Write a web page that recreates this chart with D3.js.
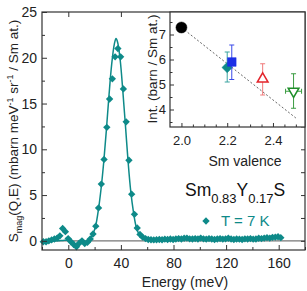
<!DOCTYPE html>
<html>
<head>
<meta charset="utf-8">
<script src="https://cdn.jsdelivr.net/npm/d3@7/dist/d3.min.js"></script>
<style>
body { margin: 0; background: #fff; }
svg { display: block; font-family: "Liberation Sans", Arial, sans-serif; }
</style>
</head>
<body>
<script>
// main panel: S_mag(Q,E) at T = 7 K
const energy = [
    -19.0, -16.9, -14.8, -12.7, -10.6, -8.5, -6.4, -4.3, -2.2, -0.1,
    2.0, 4.1, 6.2, 8.3, 10.4, 12.5, 14.6, 16.7, 18.8, 20.9,
    23.0, 25.1, 27.2, 29.3, 31.4, 33.5, 35.6, 37.7, 39.8, 41.9,
    44.0, 46.1, 48.2, 50.3, 52.4, 54.5, 56.6, 58.7, 60.8, 62.9,
    65.0, 67.1, 69.2, 71.3, 73.4, 75.5, 77.6, 79.7, 81.8, 83.9,
    86.0, 88.1, 90.2, 92.3, 94.4, 96.5, 98.6, 100.7, 102.8, 104.9,
    107.0, 109.1, 111.2, 113.3, 115.4, 117.5, 119.6, 121.7, 123.8, 125.9,
    128.0, 130.1, 132.2, 134.3, 136.4, 138.5, 140.6, 142.7, 144.8, 146.9,
    149.0, 151.1, 153.2, 155.3, 157.4, 159.5, 161.6
];
const intensity = [
    -0.1, -0.1, 0.0, 0.1, 0.2, 0.3, 0.55, 1.35, 1.0, 0.25,
    -0.1, -0.4, -0.65, -0.25, 0.0, -0.3, -0.15, 0.2, 0.75, 1.6,
    3.6, 6.2, 8.9, 12.4, 15.5, 17.7, 20.1, 21.0, 20.1, 16.6,
    13.0, 8.8, 5.1, 2.9, 1.4, 0.7, 0.4, 0.25, 0.15, 0.12,
    0.1, 0.12, 0.15, 0.12, 0.18, 0.15, 0.2, 0.15, 0.2, 0.25,
    0.2, 0.28, 0.3, 0.22, 0.2, 0.25, 0.2, 0.3, 0.22, 0.18,
    0.25, 0.2, 0.15, 0.2, 0.25, 0.18, 0.22, 0.28, 0.2, 0.15,
    0.2, 0.18, 0.15, 0.22, 0.2, 0.25, 0.18, 0.2, 0.28, 0.25,
    0.3, 0.35, 0.3, 0.38, 0.4, 0.45, 0.35
];

// fitted curve
const fitEnergy = [
    -20, -8, -4, -1, 1, 4, 6, 8, 10, 12.5,
    14.6, 16.7, 18.8, 20.9, 23, 25, 27, 29, 31, 33,
    35, 36.3, 37.5, 39.5, 41.5, 43.5, 45.5, 47.5, 49.5, 51.5,
    53.5, 56, 60, 80, 100, 120, 140, 163
];
const fitIntensity = [
    0.0, 0.0, 0.05, 0.05, -0.1, -0.45, -0.6, -0.3, 0.0, -0.3,
    -0.15, 0.2, 0.75, 1.7, 3.5, 5.8, 8.7, 12.2, 16.0, 19.3,
    21.5, 22.1, 21.7, 19.7, 16.3, 12.5, 8.6, 5.4, 3.2, 1.6,
    0.8, 0.35, 0.15, 0.15, 0.2, 0.2, 0.2, 0.35
];

const xTickLabels = [0, 40, 80, 120, 160];
const xMinorTicks = [-20, 20, 60, 100, 140, 180];
const yTickLabels = [0, 5, 10, 15, 20, 25];
const yMinorTicks = [2.5, 7.5, 12.5, 17.5, 22.5];

// inset: integrated intensity vs Sm valence
const valence = [2.0, 2.2, 2.22, 2.355, 2.49];
const intValue = [7.28, 5.68, 5.9, 5.22, 4.73];
const intLow = [7.28, 5.1, 5.2, 4.58, 4.05];
const intHigh = [7.28, 6.3, 6.58, 5.83, 5.43];
const valenceErr = [0, 0, 0, 0, 0.035];
const trendValence = [2.0, 2.5];
const trendInt = [7.28, 3.66];

const insetXTicks = [2.0, 2.2, 2.4];
const insetXMinor = [2.05, 2.1, 2.15, 2.25, 2.3, 2.35, 2.45, 2.5];
const insetYTicks = [4, 5, 6, 7];
const insetYMinor = [3.5, 4.5, 5.5, 6.5, 7.5];

const width = 307;
const height = 291;
const teal = '#0e8a89';
const axisColor = '#333';

const svg = d3.select('body').append('svg').
    attr('width', width).
    attr('height', height);

const x = d3.scaleLinear().domain([-20, 180]).range([42, 305]);
const y = d3.scaleLinear().domain([-1, 25]).range([250, 12]);

// zero line
svg.append('line').
    attr('x1', x.range()[0]).attr('x2', x.range()[1]).
    attr('y1', y(0)).attr('y2', y(0)).
    attr('stroke', '#777').attr('stroke-width', 1.3);

// fit line
const fitPts = fitEnergy.map((e, i) => [e, fitIntensity[i]]);
svg.append('path').
    datum(fitPts).
    attr('fill', 'none').
    attr('stroke', teal).
    attr('stroke-width', 1.5).
    attr('d', d3.line().x(d => x(d[0])).y(d => y(d[1])).curve(d3.curveCatmullRom.alpha(0.5)));

// data points
const diamond = d3.symbol(d3.symbolSquare, 27);
svg.append('g').
    selectAll('path').
    data(energy.map((e, i) => [e, intensity[i]])).
    join('path').
    attr('d', diamond).
    attr('fill', teal).
    attr('transform', d => `translate(${x(d[0])},${y(d[1])}) rotate(45)`);

// axes
const styleAxis = (g) => {
    g.select('.domain').remove();
    g.selectAll('line').attr('stroke', axisColor);
    g.selectAll('text').attr('fill', '#222').attr('font-size', 14);
};

svg.append('g').
    attr('transform', `translate(0,${y.range()[0]})`).
    call(d3.axisBottom(x).tickValues(xTickLabels).tickFormat(d3.format('d')).tickSizeInner(-5).tickSizeOuter(0).tickPadding(8)).
    call(styleAxis);
svg.append('g').
    attr('transform', `translate(0,${y.range()[0]})`).
    call(d3.axisBottom(x).tickValues(xMinorTicks).tickSizeInner(-3).tickSizeOuter(0).tickFormat('')).
    call(styleAxis);
svg.append('g').
    attr('transform', `translate(0,${y.range()[1]})`).
    call(d3.axisTop(x).tickValues(xTickLabels).tickSizeInner(-5).tickSizeOuter(0).tickFormat('')).
    call(styleAxis);
svg.append('g').
    attr('transform', `translate(${x.range()[0]},0)`).
    call(d3.axisLeft(y).tickValues(yTickLabels).tickFormat(d3.format('d')).tickSizeInner(-5).tickSizeOuter(0).tickPadding(5)).
    call(styleAxis);
svg.append('g').
    attr('transform', `translate(${x.range()[0]},0)`).
    call(d3.axisLeft(y).tickValues(yMinorTicks).tickSizeInner(-3).tickSizeOuter(0).tickFormat('')).
    call(styleAxis);
svg.append('g').
    attr('transform', `translate(${x.range()[1]},0)`).
    call(d3.axisRight(y).tickValues(yTickLabels.concat(yMinorTicks)).tickSizeInner(-4).tickSizeOuter(0).tickFormat('')).
    call(styleAxis);

svg.append('rect').
    attr('x', x.range()[0]).attr('y', y.range()[1]).
    attr('width', x.range()[1] - x.range()[0]).
    attr('height', y.range()[0] - y.range()[1]).
    attr('fill', 'none').attr('stroke', axisColor).attr('stroke-width', 1.2);

// axis titles
svg.append('text').
    attr('x', 185).attr('y', 287).
    attr('text-anchor', 'middle').
    attr('font-size', 14).attr('fill', '#222').
    text('Energy (meV)');

const yTitle = svg.append('text').
    attr('transform', 'translate(18,131) rotate(-90)').
    attr('text-anchor', 'middle').
    attr('font-size', 13.5).attr('fill', '#222');
yTitle.append('tspan').text('S');
yTitle.append('tspan').attr('font-size', 9).attr('dy', 4).text('mag');
yTitle.append('tspan').attr('dy', -4).text('(Q,E) (mbarn meV');
yTitle.append('tspan').attr('font-size', 9).attr('dy', -5).text('-1');
yTitle.append('tspan').attr('dy', 5).text(' sr');
yTitle.append('tspan').attr('font-size', 9).attr('dy', -5).text('-1');
yTitle.append('tspan').attr('dy', 5).text(' / Sm at.)');

// compound label and legend
const formula = svg.append('text').
    attr('x', 185).attr('y', 196).
    attr('font-size', 17.5).attr('fill', '#111');
formula.append('tspan').text('Sm');
formula.append('tspan').attr('font-size', 13).attr('dy', 7).text('0.83');
formula.append('tspan').attr('dy', -7).text('Y');
formula.append('tspan').attr('font-size', 13).attr('dy', 7).text('0.17');
formula.append('tspan').attr('dy', -7).text('S');

svg.append('path').
    attr('d', diamond).
    attr('fill', teal).
    attr('transform', 'translate(206,221) rotate(45)');
svg.append('text').
    attr('x', 221).attr('y', 225.5).
    attr('font-size', 15).attr('fill', teal).
    text('T = 7 K');

// inset
const ix = d3.scaleLinear().domain([1.95, 2.54]).range([170, 305]);
const iy = d3.scaleLinear().domain([3.3, 7.9]).range([127, 12]);

const inset = svg.append('g');

inset.append('rect').
    attr('x', ix.range()[0]).attr('y', iy.range()[1]).
    attr('width', ix.range()[1] - ix.range()[0]).
    attr('height', iy.range()[0] - iy.range()[1]).
    attr('fill', '#fff');

inset.append('line').
    attr('x1', ix(trendValence[0])).attr('y1', iy(trendInt[0])).
    attr('x2', ix(trendValence[1])).attr('y2', iy(trendInt[1])).
    attr('stroke', '#555').attr('stroke-width', 0.9).attr('stroke-dasharray', '2,2');

const pointStyle = [
    { shape: 'circle', fill: '#000', stroke: '#000', bar: '#000' },
    { shape: 'diamond', fill: teal, stroke: teal, bar: '#3aa3a0' },
    { shape: 'square', fill: '#1c2fe6', stroke: '#1c2fe6', bar: '#3a4ae8' },
    { shape: 'up', fill: '#fff', stroke: '#e3242b', bar: '#f07a7a' },
    { shape: 'down', fill: '#fff', stroke: '#1f8f2a', bar: '#3b9c42' }
];

valence.forEach((v, i) => {
    const s = pointStyle[i];
    const cx = ix(v);
    const cy = iy(intValue[i]);
    if (intHigh[i] !== intLow[i]) {
        inset.append('line').
            attr('x1', cx).attr('x2', cx).
            attr('y1', iy(intLow[i])).attr('y2', iy(intHigh[i])).
            attr('stroke', s.bar).attr('stroke-width', 1);
        [intLow[i], intHigh[i]].forEach(b => {
            inset.append('line').
                attr('x1', cx - 2.5).attr('x2', cx + 2.5).
                attr('y1', iy(b)).attr('y2', iy(b)).
                attr('stroke', s.bar).attr('stroke-width', 1);
        });
    }
    if (valenceErr[i] > 0) {
        inset.append('line').
            attr('x1', ix(v - valenceErr[i])).attr('x2', ix(v + valenceErr[i])).
            attr('y1', cy).attr('y2', cy).
            attr('stroke', s.bar).attr('stroke-width', 1);
        [v - valenceErr[i], v + valenceErr[i]].forEach(b => {
            inset.append('line').
                attr('x1', ix(b)).attr('x2', ix(b)).
                attr('y1', cy - 2.5).attr('y2', cy + 2.5).
                attr('stroke', s.bar).attr('stroke-width', 1);
        });
    }
    let sym;
    let rot = 0;
    if (s.shape === 'circle') sym = d3.symbol(d3.symbolCircle, 95);
    if (s.shape === 'diamond') { sym = d3.symbol(d3.symbolSquare, 55); rot = 45; }
    if (s.shape === 'square') sym = d3.symbol(d3.symbolSquare, 75);
    if (s.shape === 'up') sym = d3.symbol(d3.symbolTriangle, 50);
    if (s.shape === 'down') { sym = d3.symbol(d3.symbolTriangle, 50); rot = 180; }
    inset.append('path').
        attr('d', sym).
        attr('fill', s.fill).
        attr('stroke', s.stroke).
        attr('stroke-width', s.fill === '#fff' ? 1.5 : 0.5).
        attr('transform', `translate(${cx},${cy}) rotate(${rot})`);
});

const styleInsetAxis = (g) => {
    g.select('.domain').remove();
    g.selectAll('line').attr('stroke', axisColor);
    g.selectAll('text').attr('fill', '#222').attr('font-size', 13);
};

inset.append('g').
    attr('transform', `translate(0,${iy.range()[0]})`).
    call(d3.axisBottom(ix).tickValues(insetXTicks).tickFormat(d3.format('.1f')).tickSizeInner(-4).tickSizeOuter(0).tickPadding(9)).
    call(styleInsetAxis);
inset.append('g').
    attr('transform', `translate(0,${iy.range()[0]})`).
    call(d3.axisBottom(ix).tickValues(insetXMinor).tickFormat('').tickSizeInner(-2.5).tickSizeOuter(0)).
    call(styleInsetAxis);
inset.append('g').
    attr('transform', `translate(${ix.range()[0]},0)`).
    call(d3.axisLeft(iy).tickValues(insetYTicks).tickFormat(d3.format('d')).tickSizeInner(-4).tickSizeOuter(0).tickPadding(4)).
    call(styleInsetAxis);
inset.append('g').
    attr('transform', `translate(${ix.range()[0]},0)`).
    call(d3.axisLeft(iy).tickValues(insetYMinor).tickFormat('').tickSizeInner(-2.5).tickSizeOuter(0)).
    call(styleInsetAxis);

inset.append('rect').
    attr('x', ix.range()[0]).attr('y', iy.range()[1]).
    attr('width', ix.range()[1] - ix.range()[0]).
    attr('height', iy.range()[0] - iy.range()[1]).
    attr('fill', 'none').attr('stroke', axisColor).attr('stroke-width', 1.2);

inset.append('text').
    attr('x', 245).attr('y', 166).
    attr('text-anchor', 'middle').
    attr('font-size', 14).attr('fill', '#222').
    text('Sm valence');

inset.append('text').
    attr('transform', 'translate(157,69) rotate(-90)').
    attr('text-anchor', 'middle').
    attr('font-size', 13.5).attr('fill', '#222').
    text('Int. (barn / Sm at.)');
</script>
</body>
</html>
